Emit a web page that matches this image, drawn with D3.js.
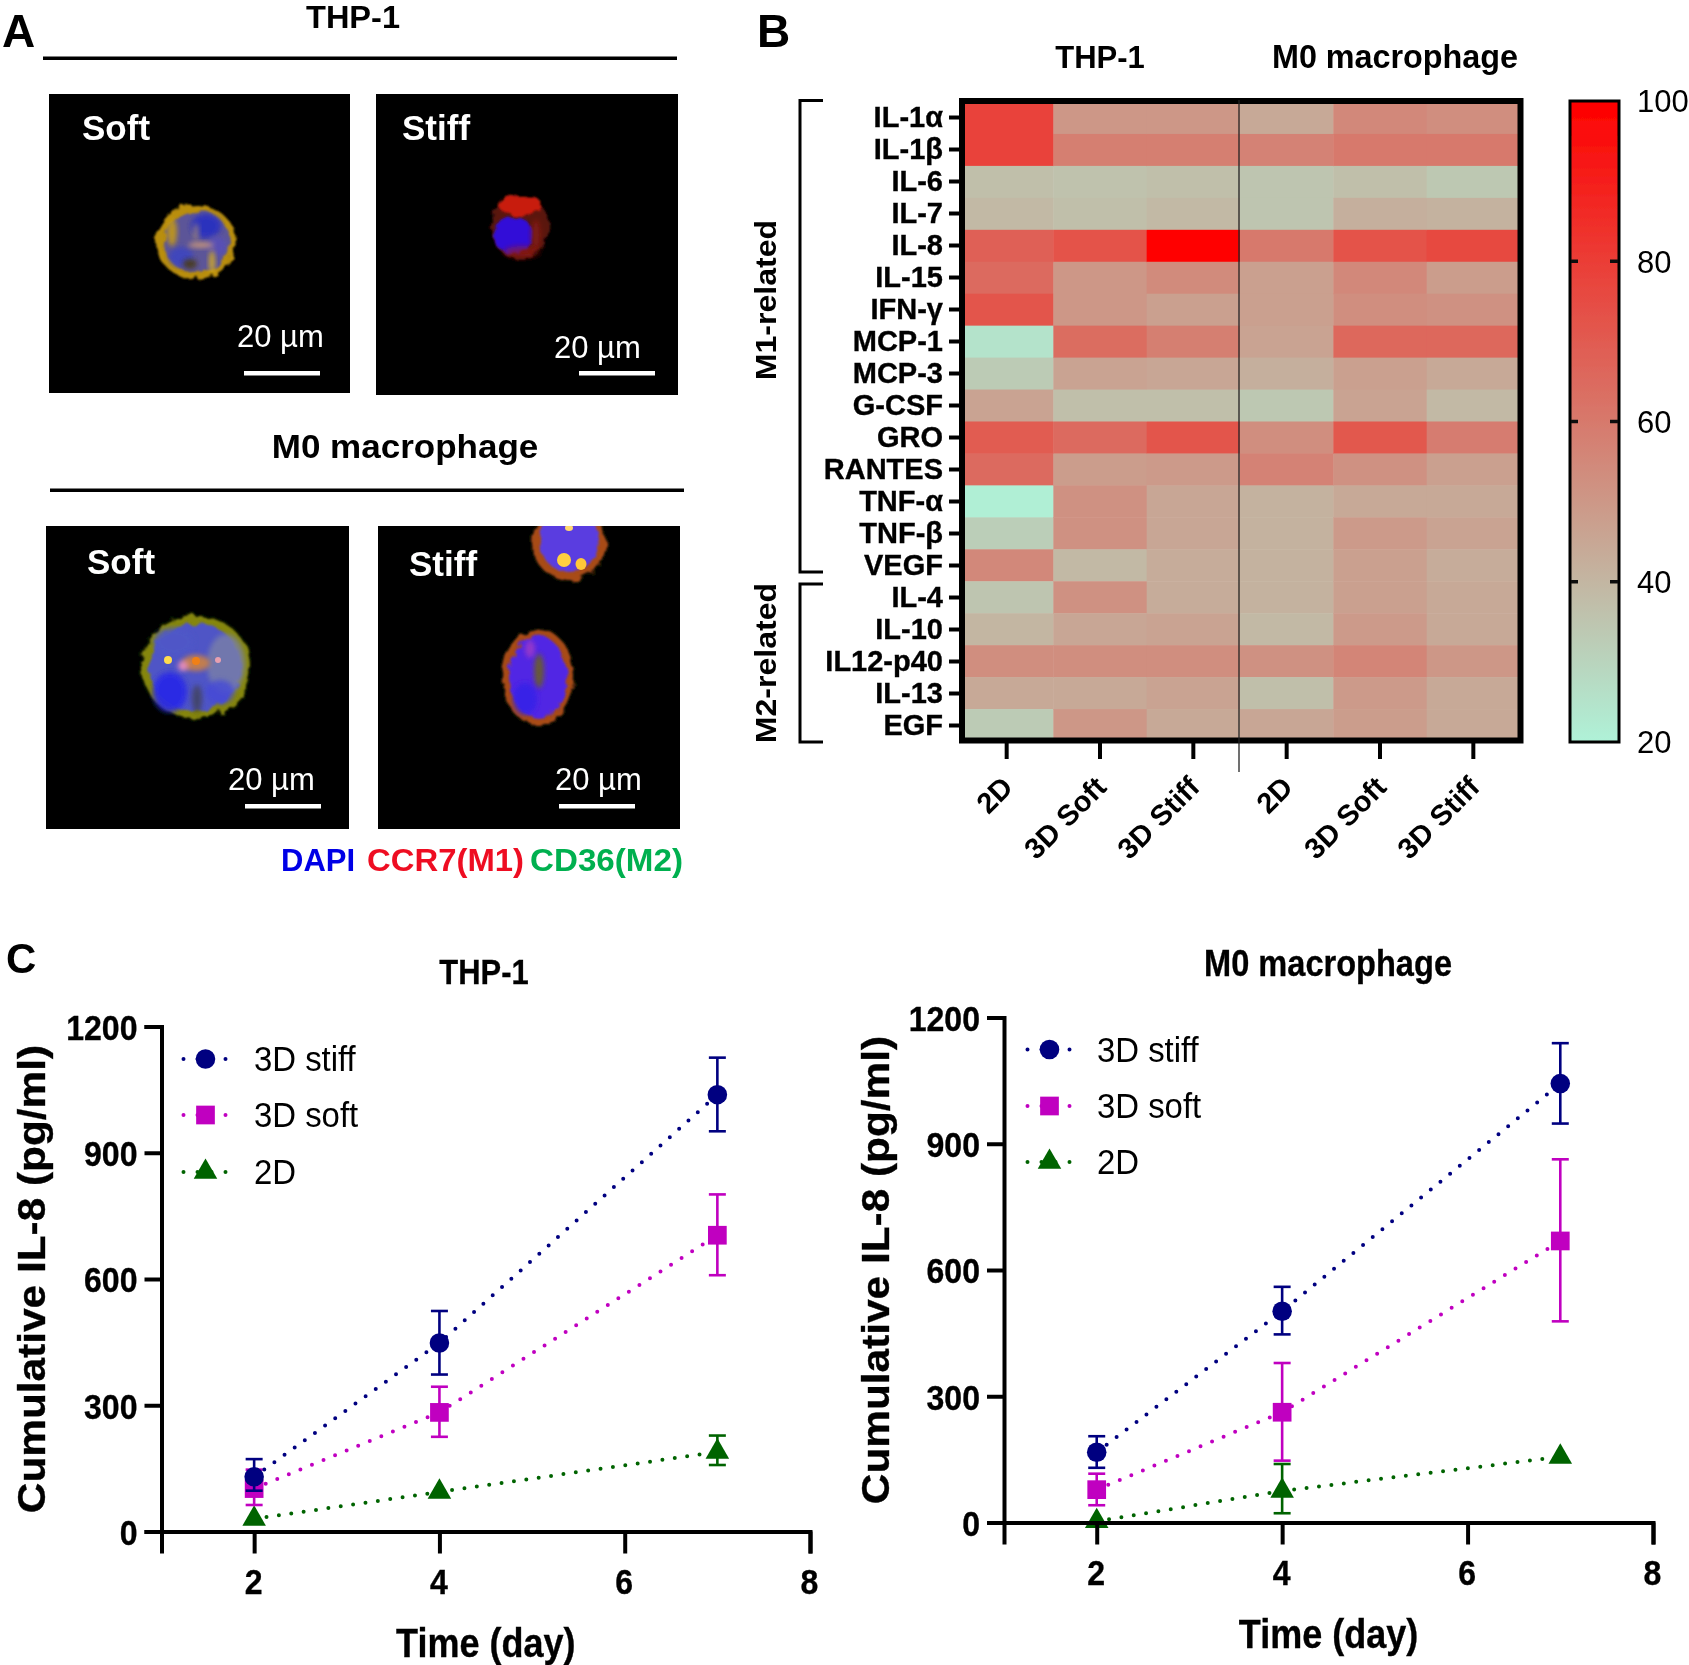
<!DOCTYPE html>
<html><head><meta charset="utf-8">
<script src="https://cdn.jsdelivr.net/npm/d3@7/dist/d3.min.js"></script>
<style>html,body{margin:0;padding:0;background:#fff}svg{display:block}text{font-family:"Liberation Sans",Arial,sans-serif}</style>
</head><body><div id="c"></div>
<script>
// ---------- data ----------
const cytokines=["IL-1α","IL-1β","IL-6","IL-7","IL-8","IL-15","IFN-γ","MCP-1","MCP-3","G-CSF","GRO","RANTES","TNF-α","TNF-β","VEGF","IL-4","IL-10","IL12-p40","IL-13","EGF"];
const conditions=["2D","3D Soft","3D Stiff","2D ","3D Soft ","3D Stiff "];
const thp2D=[78,78,37,39,68,65,72,25,33,46,70,65,21,32,55,35,40,53,44,33];
const thpSoft=[50,58,36,37,73,50,50,64,46,37,65,48,52,52,39,52,45,53,44,50];
const thpStiff=[50,58,37,39,100,54,47,58,45,37,72,49,45,45,43,43,46,53,46,44];
const m02D=[44,57,35,35,60,47,47,46,42,34,53,57,41,41,41,41,39,52,37,45];
const m0Soft=[55,60,37,42,73,55,53,66,47,46,71,52,44,49,47,47,49,56,49,48];
const m0Stiff=[53,60,34,41,76,48,52,66,44,39,59,47,44,46,43,44,44,50,44,44];
const heatColumns=[thp2D,thpSoft,thpStiff,m02D,m0Soft,m0Stiff];
const colorTicks=[20,40,60,80,100];
const days=[2,4,7];
const xTicks=[2,4,6,8];
const yTicks=[0,300,600,900,1200];
const seriesNames=["3D stiff","3D soft","2D"];
const thpStiffMean=[130,448,1038],thpStiffHi=[172,524,1126],thpStiffLo=[97,373,951];
const thpSoftMean=[102,283,704],thpSoftHi=[147,344,801],thpSoftLo=[63,225,609];
const thpFlatMean=[30,94,189],thpFlatHi=[30,94,228],thpFlatLo=[30,94,158];
const m0StiffMean=[167,502,1043],m0StiffHi=[205,560,1139],m0StiffLo=[130,447,948];
const m0SoftMean=[78,262,669],m0SoftHi=[116,379,863],m0SoftLo=[41,147,478];
const m0FlatMean=[3,75,156],m0FlatHi=[3,139,156],m0FlatLo=[3,22,156];

// ---------- setup ----------
const W=1689,H=1665;
const svg=d3.select("#c").append("svg").attr("width",W).attr("height",H).attr("viewBox",`0 0 ${W} ${H}`);
const defs=svg.append("defs");
const soft=defs.append("filter").attr("id","soft").attr("x","-2%").attr("y","-2%").attr("width","104%").attr("height","104%");
soft.append("feGaussianBlur").attr("stdDeviation",0.55);
const rough=defs.append("filter").attr("id","rough").attr("x","-20%").attr("y","-20%").attr("width","140%").attr("height","140%");
rough.append("feTurbulence").attr("type","fractalNoise").attr("baseFrequency",0.09).attr("numOctaves",3).attr("seed",4).attr("result","n");
rough.append("feDisplacementMap").attr("in","SourceGraphic").attr("in2","n").attr("scale",9).attr("result","d");
rough.append("feGaussianBlur").attr("in","d").attr("stdDeviation",0.9);
const glow=defs.append("filter").attr("id","glow").attr("x","-40%").attr("y","-40%").attr("width","180%").attr("height","180%");
glow.append("feGaussianBlur").attr("stdDeviation",2.6);
const root=svg.append("g").attr("filter","url(#soft)");
root.append("rect").attr("width",W).attr("height",H).attr("fill","#fff");

function txt(g,x,y,s,o={}){
  const t=g.append("text").attr("transform",`translate(${x},${y})${o.rot?` rotate(${o.rot})`:""} scale(${o.sx||1},1)`)
    .attr("font-size",o.size||30).attr("font-weight",o.weight||"bold").attr("fill",o.fill||"#000")
    .attr("text-anchor",o.anchor||"start").text(s);
  return t;
}

// ---------- panel A ----------
const panelsA=[
 {x:49,y:94,w:301,h:299,bg:"#000",label:"Soft",lx:82,ly:140,sx:237,sy:347,bx:244,by:373},
 {x:376,y:94,w:302,h:301,bg:"#000",label:"Stiff",lx:402,ly:140,sx:554,sy:358,bx:579,by:373},
 {x:46,y:526,w:303,h:303,bg:"#000500",label:"Soft",lx:87,ly:574,sx:228,sy:790,bx:245,by:806},
 {x:378,y:526,w:302,h:303,bg:"#000500",label:"Stiff",lx:409,ly:576,sx:555,sy:790,bx:559,by:806}];
const cellLayers=[
 [[196,242,40,37,"#b98e0e",1,"rough"],[197,242,33,31,"#5c5498",1,"rough"],[206,226,15,12,"#2c30c0",.95,"glow"],[181,257,12,10,"#3c44c0",.9,"glow"],[217,246,10,10,"#5850b8",.9,"glow"],[201,245,13,3,"#d8a078",.8,"glow"],[190,264,7,5,"#4a3a18",.9,"glow"],[172,232,5,14,"#c49a18",.9,"glow"],[212,262,3,12,"#d8b020",.9,"glow"],[196,232,3,9,"#b89868",.6,"glow"]],
 [[520,227,29,32,"#5a120e",1,"rough"],[520,205,22,10,"#c81c10",1,"rough"],[513,235,20,19,"#3010d8",1,"rough"],[536,235,5,16,"#8a1c14",.7,"glow"],[522,252,18,6,"#a01a18",.55,"glow"]],
 [[196,667,55,51,"#85860e",1,"rough"],[195,667,46,44,"#4f55c6",1,"rough"],[226,664,19,30,"#7a80a8",.8,"glow"],[170,692,17,20,"#2c2ce6",.95,"glow"],[174,642,20,14,"#5058c8",.9,"glow"],[220,692,14,12,"#4448d8",.8,"glow"],[196,663,14,8,"#c88048",.95,"glow"],[197,699,5,14,"#3a3a30",.6,"glow"],[183,666,5,5,"#f090c0",.9,"glow"],[168,660,4,4,"#ffdc50",1,null],[218,660,3,3,"#e8a0b0",1,null],[196,661,4,4,"#f08018",1,null]],
 [[538,677,36,48,"#a84c18",1,"rough"],[538,677,29,41,"#5128e4",1,"rough"],[539,671,5,17,"#6a6020",.9,"glow"],[530,649,5,9,"#b040c0",.7,"glow"],[525,699,12,16,"#3224e8",.8,"glow"]],
 [[569,543,37,37,"#a84c18",1,"rough"],[569,540,30,32,"#5a3ee0",1,"rough"],[564,560,7,7,"#ffd040",1,null],[581,564,5.5,6,"#ffc838",1,null],[569,528,4,3,"#ffd870",1,null]]];
const cellPanel=[0,1,2,3,3];
const A=root.append("g");
panelsA.forEach((p,i)=>{
  defs.append("clipPath").attr("id","pc"+i).append("rect").attr("x",p.x).attr("y",p.y).attr("width",p.w).attr("height",p.h);
  A.append("rect").attr("x",p.x).attr("y",p.y).attr("width",p.w).attr("height",p.h).attr("fill",p.bg);
  const cg=A.append("g").attr("clip-path",`url(#pc${i})`);
  cellLayers.forEach((layers,k)=>{ if(cellPanel[k]!==i) return;
    layers.forEach(l=>cg.append("ellipse").attr("cx",l[0]).attr("cy",l[1]).attr("rx",l[2]).attr("ry",l[3]).attr("fill",l[4]).attr("opacity",l[5]).attr("filter",l[6]?`url(#${l[6]})`:null));
  });
  txt(A,p.lx,p.ly,p.label,{size:35,fill:"#fff"});
  txt(A,p.sx,p.sy,"20 µm",{size:31,weight:"normal",fill:"#fff"});
  A.append("rect").attr("x",p.bx).attr("y",p.by-2).attr("width",76).attr("height",4.5).attr("fill","#fff");
});
txt(A,2,47,"A",{size:46});
txt(A,353,28,"THP-1",{size:31,sx:1.05,anchor:"middle"});
A.append("rect").attr("x",43).attr("y",56.5).attr("width",634).attr("height",3.5).attr("fill","#000");
txt(A,405,458,"M0 macrophage",{size:34,anchor:"middle",sx:1.03});
A.append("rect").attr("x",50).attr("y",488.5).attr("width",634).attr("height",3.5).attr("fill","#000");
txt(A,281,871,"DAPI",{size:31,fill:"#0000e6"});
txt(A,367,871,"CCR7(M1)",{size:31,fill:"#ee1124",sx:1.06});
txt(A,530,871,"CD36(M2)",{size:31,fill:"#00b050",sx:1.07});

// ---------- panel B ----------
const B=root.append("g");
txt(B,757,47,"B",{size:46});
const color=d3.scaleLinear().domain([20,100]).range(["#aff2d8","#ff0000"]);
const xB=d3.scaleBand().domain(conditions).range([960,1520]);
const yB=d3.scaleBand().domain(cytokines).range([102,741]);
const yLab=d3.scalePoint().domain(cytokines).range([117,725]);
heatColumns.forEach((col,c)=>{
  B.append("g").selectAll("rect").data(col).join("rect")
   .attr("x",xB(conditions[c])).attr("width",xB.bandwidth()+.5)
   .attr("y",(d,i)=>yB(cytokines[i])).attr("height",yB.bandwidth()+.5)
   .attr("fill",d=>color(d));
});
B.append("rect").attr("x",962).attr("y",101).attr("width",558.5).attr("height",639.5).attr("fill","none").attr("stroke","#000").attr("stroke-width",6);
B.append("line").attr("x1",xB(conditions[3])-1).attr("x2",xB(conditions[3])-1).attr("y1",100).attr("y2",772).attr("stroke","#222").attr("stroke-width",1.3);
const yAxB=B.append("g").attr("transform","translate(959,0)").call(d3.axisLeft(yLab).tickSize(10).tickPadding(6));
yAxB.select(".domain").remove();
yAxB.selectAll("line").attr("stroke","#000").attr("stroke-width",4);
yAxB.selectAll("text").attr("font-size",29).attr("font-weight","bold").attr("fill","#000").attr("dy","0.34em").attr("stroke","#000").attr("stroke-width",.35);
const xAxB=B.append("g").attr("transform","translate(0,743)").call(d3.axisBottom(xB).tickSize(16).tickFormat(d=>d.trim()));
xAxB.select(".domain").remove();
xAxB.selectAll("line").attr("stroke","#000").attr("stroke-width",4);
xAxB.selectAll("text").attr("font-size",29).attr("font-weight","bold").attr("fill","#000").attr("text-anchor","end").attr("y",null).attr("dy",null).attr("transform","translate(8,46) rotate(-45)");
txt(B,1100,68,"THP-1",{size:31,anchor:"middle"});
txt(B,1395,68,"M0 macrophage",{size:33,anchor:"middle",sx:.98});
// brackets
const br=(y0,y1)=>B.append("path").attr("d",`M823,${y0}H800V${y1}H823`).attr("fill","none").attr("stroke","#000").attr("stroke-width",3);
br(100.5,572);br(584,742);
txt(B,776,300,"M1-related",{size:30,rot:-90,anchor:"middle",sx:1.07});
txt(B,776,663,"M2-related",{size:30,rot:-90,anchor:"middle",sx:1.07});
// colour bar
const yC=d3.scaleLinear().domain([20,100]).range([742,101]);
const grad=defs.append("linearGradient").attr("id","cb").attr("x1",0).attr("x2",0).attr("y1",1).attr("y2",0);
grad.selectAll("stop").data(colorTicks).join("stop").attr("offset",d=>(d-20)/80).attr("stop-color",d=>color(d));
B.append("rect").attr("x",1570).attr("y",101).attr("width",49).attr("height",641).attr("fill","url(#cb)").attr("stroke","#000").attr("stroke-width",3);
const cAx=B.append("g").attr("transform","translate(1619,0)").call(d3.axisRight(yC).tickValues(colorTicks).tickSize(0).tickPadding(18));
cAx.select(".domain").remove();
cAx.selectAll("text").attr("font-size",31).attr("fill","#000").attr("dy","0.35em").attr("font-weight","normal");
B.append("g").selectAll("path").data(colorTicks.slice(1,4)).join("path")
 .attr("d",d=>`M1571,${yC(d)}h7M1610,${yC(d)}h8`).attr("stroke","#111").attr("stroke-width",3.5).attr("fill","none");

// ---------- panel C ----------
const navy="#000080",mag="#c000c0",green="#006400";
const symCircle=d3.symbol().type(d3.symbolCircle).size(300)();
const symSquare=d3.symbol().type(d3.symbolSquare).size(350)();
const symTri=d3.symbol().type(d3.symbolTriangle).size(240)();
function plot(cfg){
  const g=root.append("g");
  const x=d3.scaleLinear().domain([1,8]).range([cfg.x1,cfg.x8]);
  const y=d3.scaleLinear().domain([0,1200]).range([cfg.y0,cfg.y1200]);
  const ln=d3.line().x((d,i)=>x(days[i])).y(d=>y(d));
  const styles=[[navy,symCircle],[mag,symSquare],[green,symTri]];
  [2,1,0].forEach(k=>{
    const s=cfg.series[k],c=styles[k][0];
    g.append("path").attr("d",ln(s.mean)).attr("fill","none").attr("stroke",c).attr("stroke-width",4)
      .attr("stroke-linecap","round").attr("stroke-dasharray","0 12.5");
    const eb=g.append("g").attr("stroke",c).attr("stroke-width",2.6).attr("fill","none");
    s.mean.forEach((m,i)=>{
      if(s.hi[i]===s.lo[i]) return;
      const X=x(days[i]);
      eb.append("line").attr("x1",X).attr("x2",X).attr("y1",y(s.hi[i])).attr("y2",y(s.lo[i]));
      [s.hi[i],s.lo[i]].forEach(v=>eb.append("line").attr("x1",X-8.5).attr("x2",X+8.5).attr("y1",y(v)).attr("y2",y(v)));
    });
    g.append("g").selectAll("path").data(s.mean).join("path").attr("d",styles[k][1]).attr("fill",c)
      .attr("transform",(d,i)=>`translate(${x(days[i])},${y(d)})`);
    // legend
    const ly=cfg.legY[k];
    g.append("line").attr("x1",cfg.legX-22).attr("x2",cfg.legX+22).attr("y1",ly).attr("y2",ly).attr("stroke",c).attr("stroke-width",4).attr("stroke-linecap","round").attr("stroke-dasharray","0 14");
    g.append("path").attr("d",styles[k][1]).attr("fill",c).attr("transform",`translate(${cfg.legX},${ly})`);
    txt(g,cfg.legT,ly+12,seriesNames[k],{size:35,weight:"normal",sx:.94});
  });
  const ya=g.append("g").attr("transform",`translate(${cfg.x1},0)`).call(d3.axisLeft(y).tickValues(yTicks).tickSize(17).tickFormat(d3.format("d")));
  ya.select(".domain").attr("stroke-width",4);
  ya.selectAll("line").attr("stroke-width",4);
  ya.selectAll("text").attr("font-size",36).attr("font-weight","bold").attr("fill","#000").attr("x",null).attr("dy","0.36em").attr("stroke","#000").attr("stroke-width",.35).attr("transform","translate(-24,0) scale(.89,1)");
  const xa=g.append("g").attr("transform",`translate(0,${cfg.y0})`).call(d3.axisBottom(x).tickValues(xTicks).tickSize(22).tickFormat(d3.format("d")));
  xa.select(".domain").attr("stroke-width",4);
  xa.selectAll("line").attr("stroke-width",4);
  xa.selectAll("text").attr("font-size",36).attr("font-weight","bold").attr("fill","#000").attr("y",null).attr("dy",null).attr("stroke","#000").attr("stroke-width",.35).attr("transform","translate(-1,62) scale(.89,1)");
  txt(g,(cfg.x1+cfg.x8)/2-2+cfg.xlOff,cfg.y0+125,"Time (day)",{size:40,anchor:"middle",sx:.9}).attr("stroke","#000").attr("stroke-width",.35);
  txt(g,cfg.ylX,(cfg.y0+cfg.y1200)/2+cfg.ylOff,"Cumulative IL-8 (pg/ml)",{size:38,anchor:"middle",rot:-90,sx:1.115}).attr("stroke","#000").attr("stroke-width",.35);
  txt(g,cfg.tX,cfg.tY,cfg.title,{size:36,anchor:"middle",sx:cfg.tS}).attr("stroke","#000").attr("stroke-width",.3);
}
plot({x1:161.5,x8:810,y0:1531.5,y1200:1026.5,legX:205.5,legT:254,legY:[1059,1115,1172],ylX:45,ylOff:0,xlOff:2,tX:484,tY:984,tS:.86,title:"THP-1",
  series:[{mean:thpStiffMean,hi:thpStiffHi,lo:thpStiffLo},{mean:thpSoftMean,hi:thpSoftHi,lo:thpSoftLo},{mean:thpFlatMean,hi:thpFlatHi,lo:thpFlatLo}]});
plot({x1:1004,x8:1653,y0:1522.5,y1200:1017.5,legX:1049.5,legT:1097,legY:[1049.5,1106,1162],ylX:889,ylOff:0,xlOff:2,tX:1328,tY:976,tS:.905,title:"M0 macrophage",
  series:[{mean:m0StiffMean,hi:m0StiffHi,lo:m0StiffLo},{mean:m0SoftMean,hi:m0SoftHi,lo:m0SoftLo},{mean:m0FlatMean,hi:m0FlatHi,lo:m0FlatLo}]});
txt(root,6,973,"C",{size:42});
</script></body></html>
